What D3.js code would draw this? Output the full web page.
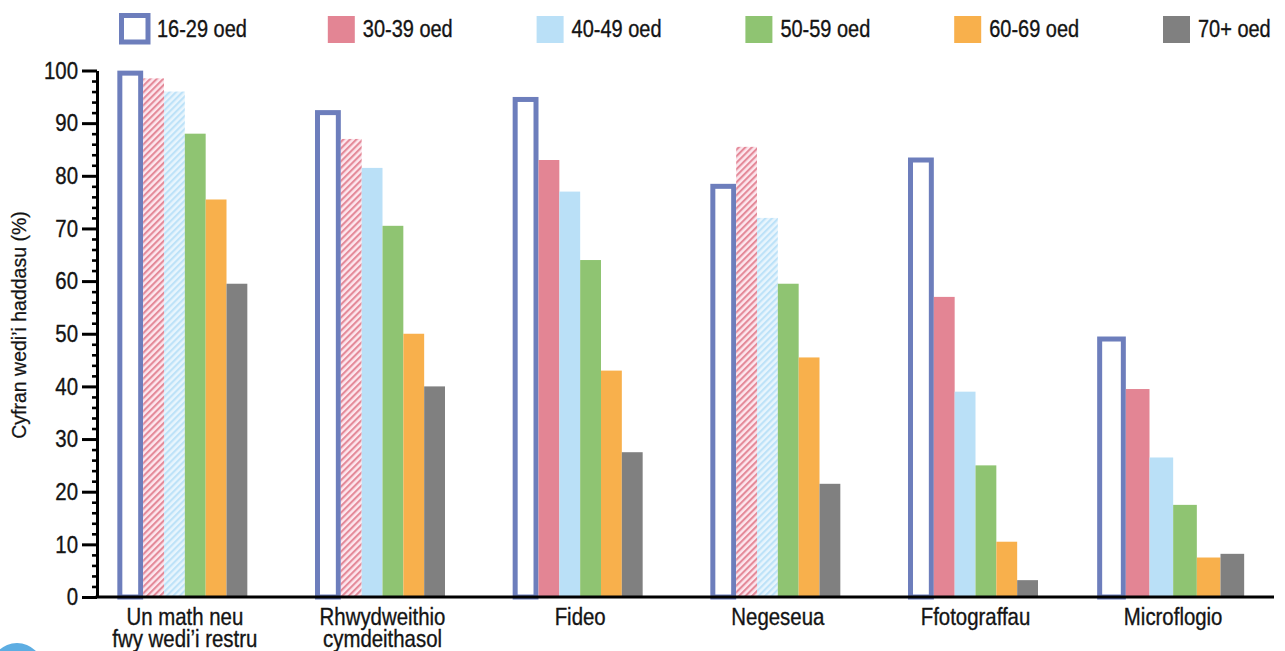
<!DOCTYPE html>
<html>
<head>
<meta charset="utf-8">
<script src="https://cdn.jsdelivr.net/npm/d3@7"></script>
<style>
  html, body { margin: 0; padding: 0; background: #ffffff; }
  svg { display: block; }
  text { font-family: "Liberation Sans", Arial, sans-serif; fill: #141414; stroke: #141414; stroke-width: 0.35px; }
</style>
</head>
<body>
<svg id="chart" width="1285" height="651"></svg>
<script>
// Age groups (series) and the activity categories along the x axis
const ageGroups = ["16-29 oed", "30-39 oed", "40-49 oed", "50-59 oed", "60-69 oed", "70+ oed"];
const categories = ["Un math neu fwy wedi’i restru", "Rhwydweithio cymdeithasol", "Fideo", "Negeseua", "Ffotograffau", "Microflogio"];
const categoryLines = [["Un math neu", "fwy wedi’i restru"], ["Rhwydweithio", "cymdeithasol"], ["Fideo"], ["Negeseua"], ["Ffotograffau"], ["Microflogio"]];

// Share of each age group (%) per category
const v16_29 = [99.5, 92, 94.5, 78, 83, 49];
const v30_39 = [98.5, 87, 83, 85.5, 57, 39.5];
const v40_49 = [96, 81.5, 77, 72, 39, 26.5];
const v50_59 = [88, 70.5, 64, 59.5, 25, 17.5];
const v60_69 = [75.5, 50, 43, 45.5, 10.5, 7.5];
const v70plus = [59.5, 40, 27.5, 21.5, 3.2, 8.2];
const seriesValues = [v16_29, v30_39, v40_49, v50_59, v60_69, v70plus];

// Cells drawn with a hatched fill (1 = hatched)
const hatch30_39 = [1, 1, 0, 1, 0, 0];
const hatch40_49 = [1, 0, 0, 1, 0, 0];

const yTicks = [0, 10, 20, 30, 40, 50, 60, 70, 80, 90, 100];

const colors = ["#6d7ebc", "#e38594", "#bae0f7", "#8fc472", "#f8b04c", "#808080"];

// Horizontal squeeze giving the labels a condensed face
const SQUEEZE = 0.85;

const svg = d3.select("#chart");

// Hatch patterns
const defs = svg.append("defs");
function hatch(id, bg, stripe) {
  const p = defs.append("pattern")
    .attr("id", id)
    .attr("patternUnits", "userSpaceOnUse")
    .attr("width", 4.6).attr("height", 4.6)
    .attr("patternTransform", "rotate(45)");
  p.append("rect").attr("width", 4.6).attr("height", 4.6).attr("fill", bg);
  p.append("rect").attr("width", 2.1).attr("height", 4.6).attr("fill", stripe);
}
hatch("hatchPink", "#fde7ee", "#e48a99");
hatch("hatchBlue", "#e8f5fd", "#bde2f8");

const y = d3.scaleLinear().domain([0, 100]).range([597, 70.5]);
const x = d3.scalePoint().domain(categories).range([86, 1272]).padding(0.5);

function groupWidth(cat) {
  return cat === categories[categories.length - 1] ? 142 : 125;
}

function fillFor(si, ci) {
  if (si === 1 && hatch30_39[ci]) return "url(#hatchPink)";
  if (si === 2 && hatch40_49[ci]) return "url(#hatchBlue)";
  return colors[si];
}

// Condensed text placed at (px, py)
function label(px, py, str, size, anchor) {
  return svg.append("text")
    .attr("transform", `translate(${px},${py}) scale(${SQUEEZE},1)`)
    .attr("text-anchor", anchor || "start")
    .style("font-size", size + "px")
    .text(str);
}

// Decorative disc at the lower left
svg.append("circle").attr("cx", 17).attr("cy", 669).attr("r", 26).attr("fill", "#5dade2");

// Bars
categories.forEach((cat, ci) => {
  const gw = groupWidth(cat);
  const inner = d3.scaleBand().domain(ageGroups).range([x(cat) - gw / 2, x(cat) + gw / 2]);
  const g = svg.append("g");
  ageGroups.forEach((ag, si) => {
    const v = seriesValues[si][ci];
    if (si === 0) {
      g.append("rect")
        .attr("x", inner(ag) - 2.5)
        .attr("y", y(v))
        .attr("width", inner.bandwidth())
        .attr("height", y(0) - y(v))
        .attr("fill", "#ffffff")
        .attr("stroke", colors[0])
        .attr("stroke-width", 5);
    } else {
      g.append("rect")
        .attr("x", inner(ag))
        .attr("y", y(v))
        .attr("width", inner.bandwidth())
        .attr("height", y(0) - y(v))
        .attr("fill", fillFor(si, ci));
    }
  });
});

// Y axis: major and minor ticks
const minorTicks = d3.range(0, 100, 2).filter(d => d % 10 !== 0);
const yMinor = svg.append("g").attr("transform", "translate(97,0)")
  .call(d3.axisLeft(y).tickValues(minorTicks).tickSize(5).tickSizeOuter(0).tickFormat(""));
yMinor.select(".domain").remove();
yMinor.selectAll(".tick line").attr("stroke", "#000").attr("stroke-width", 2.6);

const yAxis = svg.append("g").attr("transform", "translate(97,0)")
  .call(d3.axisLeft(y).tickValues(yTicks).tickSize(15).tickSizeOuter(0).tickPadding(4));
yAxis.select(".domain").attr("stroke", "#000").attr("stroke-width", 3);
yAxis.selectAll(".tick line").attr("stroke", "#000").attr("stroke-width", 3);
yAxis.selectAll(".tick text")
  .attr("x", -19 / SQUEEZE)
  .attr("transform", `scale(${SQUEEZE},1)`)
  .style("font-family", "'Liberation Sans', Arial, sans-serif")
  .style("font-size", "24px")
  .attr("fill", "#141414");

// X axis baseline
svg.append("line")
  .attr("x1", 95.5).attr("x2", 1274)
  .attr("y1", y(0)).attr("y2", y(0))
  .attr("stroke", "#000").attr("stroke-width", 3);

// Category labels
categories.forEach((cat, ci) => {
  const t = svg.append("text")
    .attr("transform", `translate(${x(cat)},0) scale(${SQUEEZE},1)`)
    .attr("text-anchor", "middle")
    .style("font-size", "24px");
  categoryLines[ci].forEach((line, li) => {
    t.append("tspan").attr("x", 0).attr("y", 625 + li * 22).text(line);
  });
});

// Y axis title
svg.append("text")
  .attr("transform", "translate(26,325) rotate(-90)")
  .attr("text-anchor", "middle")
  .style("font-size", "19.5px")
  .style("stroke-width", "0.25px")
  .text("Cyfran wedi’i haddasu (%)");

// Legend
const lx = d3.scalePoint().domain(ageGroups).range([119, 1163]);
ageGroups.forEach((ag, si) => {
  if (si === 0) {
    svg.append("rect")
      .attr("x", lx(ag) + 2.5).attr("y", 15.5)
      .attr("width", 26.5).attr("height", 26.5)
      .attr("fill", "#ffffff").attr("stroke", colors[0]).attr("stroke-width", 5);
    label(lx(ag) + 38, 37, ag, 23.5);
  } else {
    svg.append("rect")
      .attr("x", lx(ag)).attr("y", 16)
      .attr("width", 27).attr("height", 27)
      .attr("fill", colors[si]);
    label(lx(ag) + 35, 37, ag, 23.5);
  }
});
</script>
</body>
</html>
